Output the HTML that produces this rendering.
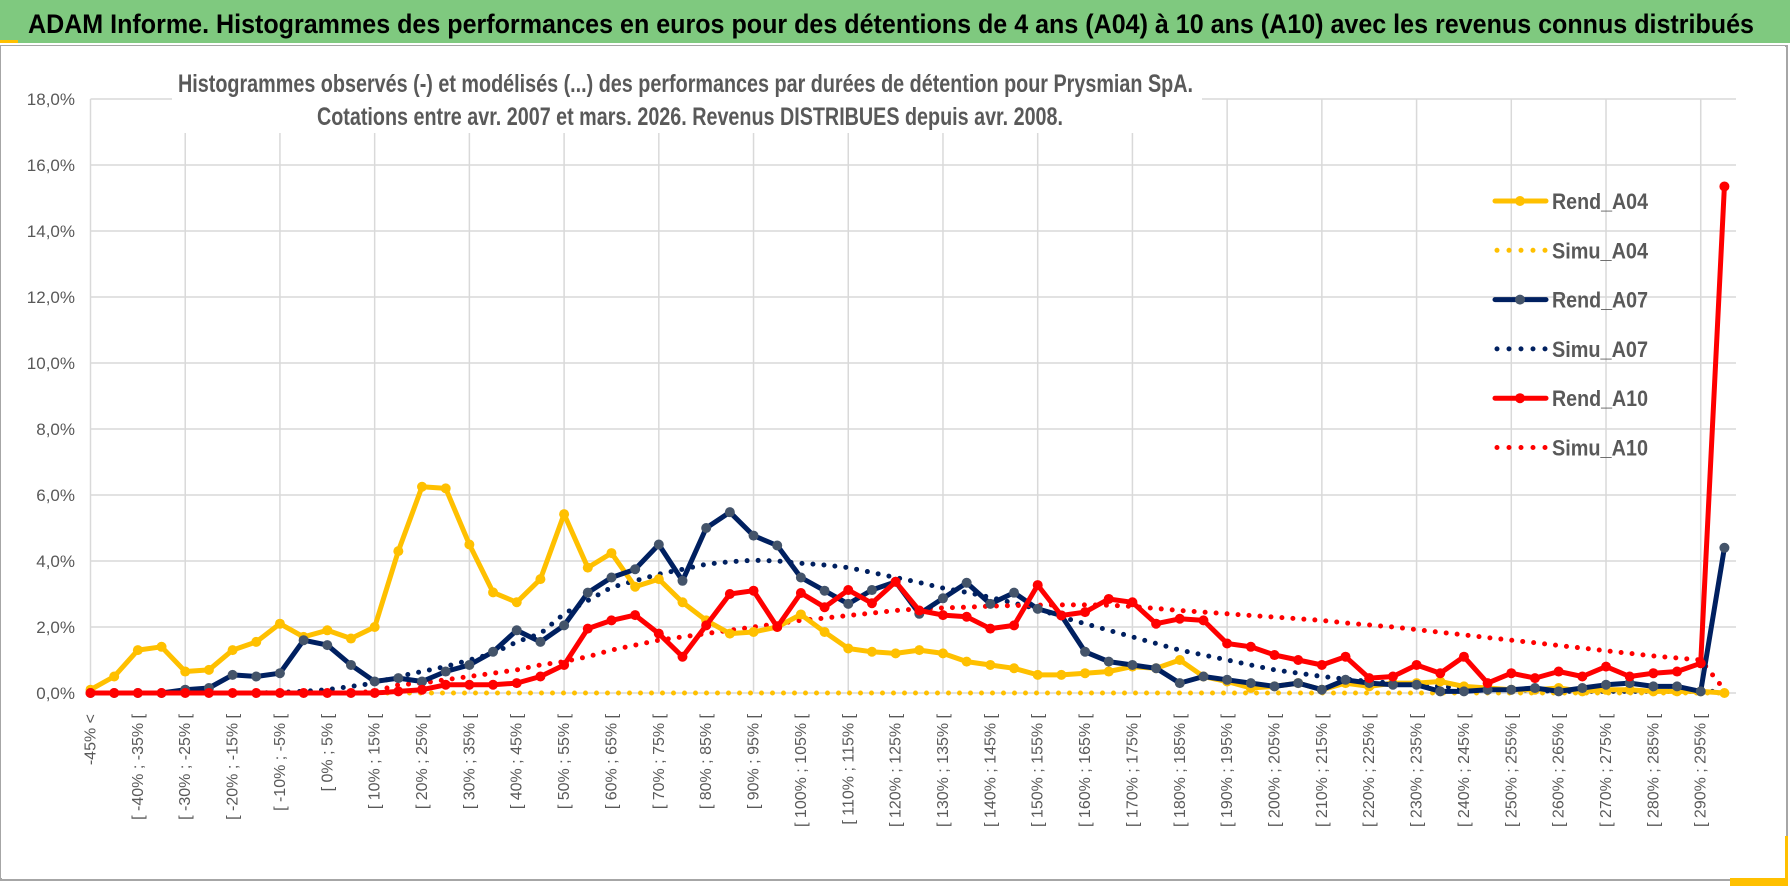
<!DOCTYPE html>
<html><head><meta charset="utf-8">
<style>
html,body{margin:0;padding:0;background:#fff;}
svg{display:block;font-family:"Liberation Sans",sans-serif;}
</style></head>
<body>
<svg id="chart" width="1790" height="888" viewBox="0 0 1790 888" xmlns="http://www.w3.org/2000/svg">
  <rect x="0" y="0" width="1790" height="43" fill="#7fc97f"/>
  <rect x="0" y="40" width="18" height="3" fill="#ffc000"/>
  <text x="28" y="33" font-size="27" font-weight="bold" fill="#000" textLength="1726" lengthAdjust="spacingAndGlyphs">ADAM Informe. Histogrammes des performances en euros pour des détentions de 4 ans (A04) à 10 ans (A10) avec les revenus connus distribués</text>
  <rect x="1" y="46" width="1786" height="834" fill="#fff" stroke="#a6a6a6" stroke-width="2"/>
  <rect x="1772" y="836" width="16" height="50" fill="#ffc000"/>
  <rect x="1730" y="872" width="58" height="14" fill="#ffc000"/>
  <rect x="1" y="46" width="1784" height="832" fill="#fff"/>
  <g id="grid"></g>
  <g id="yaxis"></g>
  <g id="xaxis"></g>
  <rect x="172" y="62" width="1030" height="71" fill="#fff"/>
  <text x="178" y="92" font-size="25" font-weight="bold" fill="#595959" textLength="1015" lengthAdjust="spacingAndGlyphs">Histogrammes observés (-) et modélisés (...) des performances par durées de détention pour Prysmian SpA.</text>
  <text x="317" y="125" font-size="25" font-weight="bold" fill="#595959" textLength="746" lengthAdjust="spacingAndGlyphs">Cotations entre avr. 2007 et mars. 2026. Revenus DISTRIBUES depuis avr. 2008.</text>
  <g id="series"></g>
  <g id="legend"></g>
</svg>
<script>
const rendA04 = [0.1,0.5,1.3,1.4,0.65,0.7,1.3,1.55,2.1,1.7,1.9,1.65,2.0,4.3,6.25,6.2,4.5,3.05,2.75,3.45,5.42,3.8,4.24,3.22,3.45,2.75,2.2,1.8,1.85,2.0,2.38,1.85,1.35,1.25,1.2,1.3,1.2,0.95,0.85,0.75,0.55,0.55,0.6,0.65,0.8,0.75,1.0,0.5,0.35,0.15,0.2,0.3,0.1,0.3,0.2,0.3,0.3,0.35,0.2,0.15,0.1,0.1,0.15,0.05,0.1,0.1,0.05,0.05,0.05,0.0];
const simuA04 = [0,0,0,0,0,0,0,0,0,0,0,0,0,0,0,0,0,0,0,0,0,0,0,0,0,0,0,0,0,0,0,0,0,0,0,0,0,0,0,0,0,0,0,0,0,0,0,0,0,0,0,0,0,0,0,0,0,0,0,0,0,0,0,0,0,0,0,0,0,0];
const rendA07 = [0,0,0,0,0.1,0.15,0.55,0.5,0.6,1.6,1.45,0.85,0.35,0.45,0.35,0.65,0.85,1.25,1.9,1.55,2.05,3.04,3.5,3.75,4.5,3.4,5.0,5.48,4.77,4.47,3.5,3.1,2.7,3.12,3.37,2.4,2.87,3.34,2.7,3.04,2.55,2.35,1.25,0.95,0.85,0.75,0.3,0.5,0.4,0.3,0.2,0.3,0.1,0.4,0.3,0.25,0.25,0.05,0.05,0.1,0.1,0.15,0.05,0.15,0.25,0.3,0.2,0.2,0.05,4.4];
const simuA07 = [0,0,0,0,0,0,0,0,0.02,0.05,0.1,0.2,0.3,0.5,0.65,0.8,1.0,1.2,1.55,1.8,2.4,2.8,3.2,3.4,3.6,3.75,3.9,3.98,4.02,4.0,3.93,3.88,3.8,3.65,3.5,3.35,3.18,3.05,2.9,2.72,2.55,2.3,2.1,1.9,1.7,1.5,1.3,1.15,1.0,0.85,0.7,0.6,0.5,0.42,0.35,0.3,0.25,0.2,0.15,0.12,0.1,0.08,0.05,0.05,0.05,0.05,0.05,0.05,0.05,0.05];
const rendA10 = [0,0,0,0,0,0,0,0,0,0,0,0,0,0.05,0.1,0.25,0.25,0.25,0.3,0.5,0.85,1.95,2.2,2.36,1.8,1.1,2.05,3.0,3.1,2.0,3.03,2.6,3.12,2.72,3.37,2.5,2.36,2.31,1.95,2.05,3.27,2.35,2.45,2.85,2.75,2.1,2.25,2.2,1.5,1.4,1.15,1.0,0.85,1.1,0.45,0.5,0.85,0.6,1.1,0.3,0.6,0.45,0.65,0.5,0.8,0.5,0.6,0.65,0.9,15.35];
const simuA10 = [0,0,0,0,0,0,0,0,0,0,0,0,0.05,0.25,0.3,0.4,0.5,0.6,0.7,0.85,0.95,1.1,1.3,1.45,1.6,1.7,1.8,1.9,2.0,2.1,2.2,2.27,2.35,2.42,2.5,2.55,2.58,2.6,2.63,2.65,2.66,2.67,2.67,2.66,2.62,2.56,2.5,2.45,2.4,2.35,2.3,2.25,2.2,2.12,2.06,2.0,1.92,1.84,1.76,1.68,1.6,1.52,1.44,1.36,1.28,1.2,1.12,1.06,1.0,0.1];
const yTicks = [0,2,4,6,8,10,12,14,16,18];
const yTickLabels = ["0,0%","2,0%","4,0%","6,0%","8,0%","10,0%","12,0%","14,0%","16,0%","18,0%"];

const categories = ["-45% <"];
for (let v = -45; v < 300; v += 5) categories.push("[ " + v + "% ; " + (v + 5) + "% [");

const NS = "http://www.w3.org/2000/svg";
const X0 = 90.5, DX = 23.68, Y0 = 693, PY = 33;
function xPos(i){ return X0 + i * DX; }
function yPos(v){ return Y0 - v * PY; }
function mk(tag, attrs, parent){
  const e = document.createElementNS(NS, tag);
  for (const k in attrs) e.setAttribute(k, attrs[k]);
  parent.appendChild(e);
  return e;
}
const grid = document.getElementById('grid');
const yaxis = document.getElementById('yaxis');
const xaxis = document.getElementById('xaxis');
const series = document.getElementById('series');
const legend = document.getElementById('legend');
const plotRight = 1736;

yTicks.forEach((t, k) => {
  const l = mk('line', {x1: X0, x2: plotRight, y1: yPos(t), y2: yPos(t), stroke: '#d9d9d9', 'stroke-width': 1.5}, grid);
  
  
  const tx = mk('text', {x: 75, y: yPos(t) + 6, 'font-size': 17, fill: '#595959', 'text-anchor': 'end'}, yaxis);
  tx.textContent = yTickLabels[k];
  
  
});
for (let i = 0; i < categories.length; i += 4) {
  const l = mk('line', {x1: xPos(i), x2: xPos(i), y1: yPos(18), y2: Y0, stroke: '#d9d9d9', 'stroke-width': 1.5}, grid);
  
  
}
for (let i = 0; i < categories.length; i += 2) {
  const x = xPos(i) + 5;
  const tx = mk('text', {x: 0, y: 0, 'font-size': 16, fill: '#595959', 'text-anchor': 'end', transform: 'translate(' + x + ',714) rotate(-90)'}, xaxis);
  tx.textContent = categories[i];
  
  
}

function pts(arr){ return arr.map((v, i) => xPos(i).toFixed(1) + ',' + yPos(v).toFixed(1)).join(' '); }
function dotted(arr, color, name){
  const p = mk('polyline', {points: pts(arr), fill: 'none', stroke: color, 'stroke-width': 5, 'stroke-linecap': 'round', 'stroke-dasharray': '0 11'}, series);
  
  
}
function solid(arr, color, marker, name){
  const p = mk('polyline', {points: pts(arr), fill: 'none', stroke: color, 'stroke-width': 5, 'stroke-linejoin': 'round'}, series);
  
  
  arr.forEach((v, i) => {
    const c = mk('circle', {cx: xPos(i), cy: yPos(v), r: 5, fill: marker}, series);
    
    
  });
}
dotted(simuA04, '#ffc000', 'simu-a04-line');
dotted(simuA07, '#002060', 'simu-a07-line');
dotted(simuA10, '#ff0000', 'simu-a10-line');
solid(rendA04, '#ffc000', '#ffc000', 'rend-a04-line');
solid(rendA07, '#002060', '#44546a', 'rend-a07-line');
solid(rendA10, '#ff0000', '#ff0000', 'rend-a10-line');

const legNames = ["Rend_A04","Simu_A04","Rend_A07","Simu_A07","Rend_A10","Simu_A10"];
const legColors = ['#ffc000','#ffc000','#002060','#002060','#ff0000','#ff0000'];
const legMarkers = ['#ffc000',null,'#44546a',null,'#ff0000',null];
legNames.forEach((n, k) => {
  const y = 201 + k * 49.3;
  if (legMarkers[k]) {
    const l = mk('line', {x1: 1495, x2: 1546, y1: y, y2: y, stroke: legColors[k], 'stroke-width': 5, 'stroke-linecap': 'round'}, legend);
    
    
    const c = mk('circle', {cx: 1520, cy: y, r: 5, fill: legMarkers[k]}, legend);
    
    
  } else {
    const l = mk('line', {x1: 1497, x2: 1547, y1: y, y2: y, stroke: legColors[k], 'stroke-width': 5, 'stroke-linecap': 'round', 'stroke-dasharray': '0 12'}, legend);
    
    
  }
  const t = mk('text', {x: 1552, y: y + 8, 'font-size': 22, 'font-weight': 'bold', fill: '#595959', textLength: 96, lengthAdjust: 'spacingAndGlyphs'}, legend);
  t.textContent = n;
  
  
});
</script>
</body></html>
